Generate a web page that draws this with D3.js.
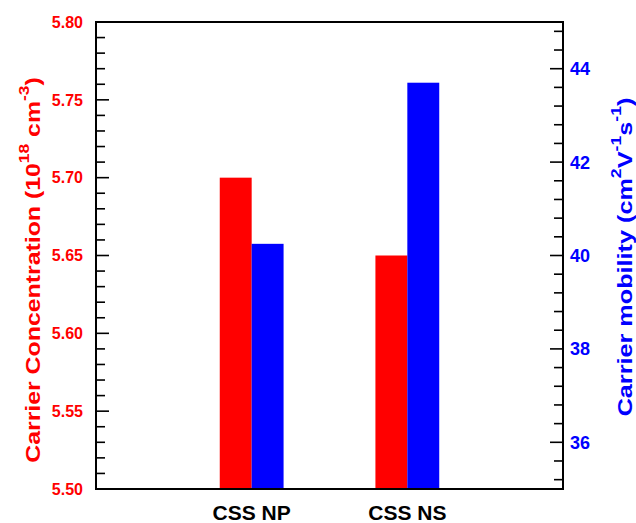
<!DOCTYPE html>
<html>
<head>
<meta charset="utf-8">
<script src="https://cdn.jsdelivr.net/npm/d3@7"></script>
<style>
  html, body { margin: 0; padding: 0; background: #fff; }
  text { font-family: "Liberation Sans", Arial, sans-serif; font-weight: bold; }
</style>
</head>
<body>
<svg id="chart" width="636" height="523"></svg>
<script>
const categories = ["CSS NP", "CSS NS"];
const concentration = [5.70, 5.65];      // 10^18 cm^-3 (left axis)
const mobility = [40.25, 43.70];         // cm^2 V^-1 s^-1 (right axis)
const leftTicks = [5.50, 5.55, 5.60, 5.65, 5.70, 5.75, 5.80];
const rightTicks = [36, 38, 40, 42, 44];

const RED = "#ff0000", BLUE = "#0000ff";
const svg = d3.select("#chart");
const L = 96, R = 563, T = 22, B = 489;

const x = d3.scaleLinear().domain([0, categories.length + 1]).range([L, R]);
const yL = d3.scaleLinear().domain([5.50, 5.80]).range([B, T]);
const yR = d3.scaleLinear().domain([35, 45]).range([B, T]);
const barW = 0.205;

// bars
const g = svg.append("g");
categories.forEach((c, i) => {
  const cx = i + 1;
  g.append("rect")
    .attr("x", x(cx - barW)).attr("width", x(cx) - x(cx - barW))
    .attr("y", yL(concentration[i])).attr("height", yL(5.50) - yL(concentration[i]))
    .attr("fill", RED);
  g.append("rect")
    .attr("x", x(cx)).attr("width", x(cx + barW) - x(cx))
    .attr("y", yR(mobility[i])).attr("height", yR(35) - yR(mobility[i]))
    .attr("fill", BLUE);
});

// left axis ticks (inward)
const leftMinor = d3.range(0, 31).map(k => 5.50 + k * 0.01);
svg.append("g").selectAll("line").data(leftMinor).join("line")
  .attr("x1", L).attr("x2", (d, k) => L + (k % 5 === 0 ? 13 : 9))
  .attr("y1", d => yL(d)).attr("y2", d => yL(d))
  .attr("stroke", "#000").attr("stroke-width", 1.6);
svg.append("g").selectAll("text").data(leftTicks).join("text")
  .attr("x", 83).attr("y", d => yL(d)).attr("dy", "0.36em")
  .attr("text-anchor", "end").attr("font-size", 16).attr("fill", RED)
  .text(d => d3.format(".2f")(d));

// right axis ticks (inward)
const rightMinor = d3.range(-2, 23).map(k => 36 + k * 0.4).filter(v => v > 35.01 && v < 44.99);
svg.append("g").selectAll("line").data(rightMinor).join("line")
  .attr("x1", R).attr("x2", d => R - (Math.abs(d / 2 - Math.round(d / 2)) < 1e-6 ? 13 : 9))
  .attr("y1", d => yR(d)).attr("y2", d => yR(d))
  .attr("stroke", "#000").attr("stroke-width", 1.6);
svg.append("g").selectAll("text").data(rightTicks).join("text")
  .attr("x", 570).attr("y", d => yR(d)).attr("dy", "0.36em")
  .attr("text-anchor", "start").attr("font-size", 18).attr("fill", BLUE)
  .text(d => d);

// frame
svg.append("rect").attr("x", L).attr("y", T).attr("width", R - L).attr("height", B - T)
  .attr("fill", "none").attr("stroke", "#000").attr("stroke-width", 2);

// category labels
svg.append("g").selectAll("text").data(categories).join("text")
  .attr("x", (d, i) => x(i + 1)).attr("y", 520)
  .attr("text-anchor", "middle").attr("font-size", 21).attr("fill", "#000")
  .text(d => d);

// axis titles
function title(parts, color, cx, cy, targetLen) {
  const grp = svg.append("g");
  const t = grp.append("text").attr("text-anchor", "middle").attr("font-size", 20).attr("fill", color);
  parts.forEach(p => {
    const ts = t.append("tspan").text(p.t);
    if (p.sup) ts.attr("font-size", 14).attr("baseline-shift", "11px");
  });
  const w = t.node().getBBox().width;
  grp.attr("transform", `translate(${cx},${cy}) rotate(-90) scale(${targetLen / w},1)`);
}
title([{t: "Carrier Concentration (10"}, {t: "18", sup: true}, {t: " cm"}, {t: "-3", sup: true}, {t: ")"}],
      RED, 40, 270, 386);
title([{t: "Carrier mobility (cm"}, {t: "2", sup: true}, {t: "V"}, {t: "-1", sup: true}, {t: "s"}, {t: "-1", sup: true}, {t: ")"}],
      BLUE, 632, 257, 319);
</script>
</body>
</html>
